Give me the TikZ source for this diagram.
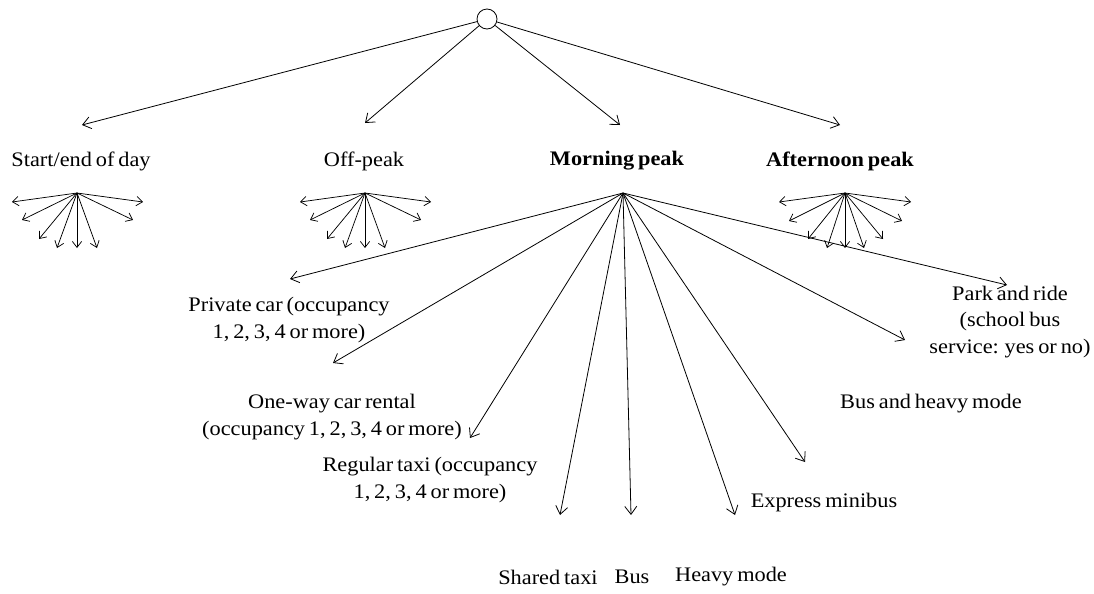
\documentclass[tikz,border=0pt]{standalone}
\usepackage{fontspec}
\setmainfont{Liberation Serif}[FakeStretch=1.08,WordSpace=0.7]
\usetikzlibrary{arrows.meta}
\begin{document}
\begin{tikzpicture}[x=0.75pt,y=-0.75pt,
  lbl/.style={font=\fontsize{15.5}{20}\selectfont, inner sep=0pt, align=center},
  big/.style={-{Straight Barb[length=6pt,width=9pt]}, line width=0.6pt},
  small/.style={-{Straight Barb[length=4.5pt,width=7pt]}, line width=0.55pt}]
\path[use as bounding box] (0,0) rectangle (1094,593);
% root
\node[circle, draw, line width=0.6pt, minimum size=15pt, inner sep=0pt] (root) at (487,19) {};
% level 1 labels
\node[lbl] (start) at (81,161) {Start/end of day};
\node[lbl] (off) at (364,161) {Off-peak};
\node[lbl] (morn) at (617,161) {\textbf{Morning peak}};
\node[lbl] (aft) at (840,161) {\textbf{Afternoon peak}};
\coordinate (e1) at (82,125);
\coordinate (e2) at (365,123);
\coordinate (e3) at (620,125);
\coordinate (e4) at (840,125);
\foreach \e in {e1,e2,e3,e4} \draw[big] (root) -- (\e);
% small fans
\coordinate (fs) at (77,193);
\coordinate (fo) at (365,193);
\coordinate (fa) at (845,193);
\foreach \f in {fs,fo}
  \foreach \dx/\dy in {-65/9,-55/27,-38/46,-20/55,0/55,20/55,56/27,66/9}
    \draw[small] (\f) -- ++(\dx,\dy);
\foreach \dx/\dy in {-66/9,-56/28,-37/46,-18/55,0/55,19/55,38/46,57/28,66/9}
  \draw[small] (fa) -- ++(\dx,\dy);
% morning peak fan
\coordinate (fm) at (623,193);
\coordinate (m1) at (290,279);
\coordinate (m2) at (333,363);
\coordinate (m3) at (470,438);
\coordinate (m4) at (560,515);
\coordinate (m5) at (631,515);
\coordinate (m6) at (735,515);
\coordinate (m7) at (805,462);
\coordinate (m8) at (905,340);
\coordinate (m9) at (1007,285);
\foreach \m in {m1,m2,m3,m4,m5,m6,m7,m8,m9} \draw[big] (fm) -- (\m);
% mode labels
\node[lbl] (pc) at (289,320) {Private car (occupancy\\1, 2, 3, 4 or more)};
\node[lbl] (ow) at (332,417) {One-way car rental\\(occupancy 1, 2, 3, 4 or more)};
\node[lbl] (rt) at (430,480) {Regular taxi (occupancy\\1, 2, 3, 4 or more)};
\node[lbl] (st) at (548,577) {Shared taxi};
\node[lbl] (bu) at (632,577) {Bus};
\node[lbl] (hm) at (731,577) {Heavy mode};
\node[lbl] (em) at (824,503) {Express minibus};
\node[lbl] (bh) at (931,404) {Bus and heavy mode};
\node[lbl] (pr) at (1010,322) {Park and ride\\(school bus\\service: yes or no)};
\end{tikzpicture}
\end{document}
